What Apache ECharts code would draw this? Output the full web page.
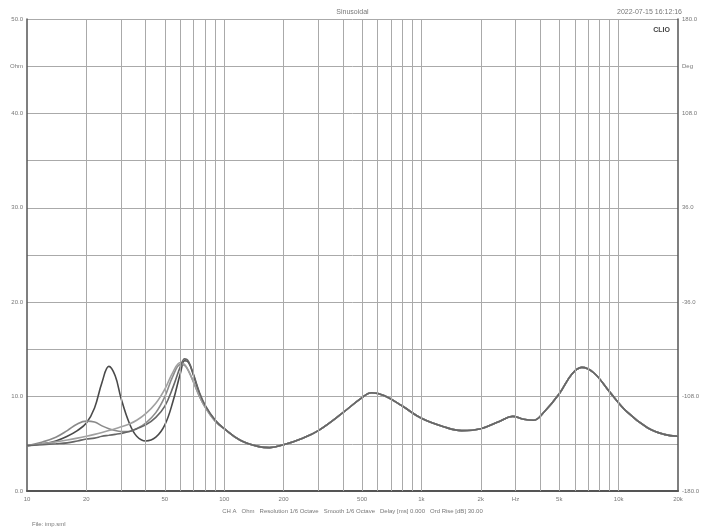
<!DOCTYPE html>
<html><head><meta charset="utf-8">
<script src="https://cdn.jsdelivr.net/npm/echarts@6/dist/echarts.min.js"></script>
<style>html,body{margin:0;background:#fff}#c{width:705px;height:528px}</style></head>
<body><div id="c"></div>
<script>
const lowFreq=[10,12,14,16,18,20,22,24,26,28,30,33,36,40,45,50,55,60,63,66,70,75,80,90];
const tailFreq=[100,120,150,170,200,250,300,400,500,560,650,800,1000,1300,1600,2000,2500,2900,3300,3700,4200,5000,5800,6500,7500,9000,11000,14000,17000,20000];
const tailVals=[6.6,5.4,4.7,4.6,4.9,5.6,6.4,8.3,9.9,10.4,10.1,9.0,7.7,6.8,6.4,6.6,7.4,7.9,7.6,7.5,8.4,10.3,12.4,13.1,12.5,10.5,8.4,6.7,6.0,5.8];
const lowA=[4.8,5.0,5.3,5.8,6.4,7.2,8.8,11.5,13.2,12.2,9.8,7.2,5.8,5.3,5.7,7.0,9.5,12.5,13.8,13.6,12.2,10.3,9.0,7.5];
const lowB=[4.8,5.2,5.7,6.4,7.1,7.4,7.3,6.9,6.6,6.4,6.3,6.3,6.6,7.2,8.3,10.0,12.2,13.4,13.3,12.7,11.5,10.0,8.9,7.4];
const lowC=[4.8,5.0,5.2,5.4,5.6,5.8,6.0,6.2,6.4,6.6,6.8,7.1,7.5,8.2,9.3,10.8,12.6,13.6,13.4,12.7,11.5,10.0,8.9,7.4];
const lowD=[4.8,4.9,5.0,5.1,5.3,5.5,5.6,5.8,5.9,6.0,6.1,6.3,6.6,7.0,7.8,9.0,11.0,13.2,14.0,13.7,12.3,10.4,9.1,7.5];
const gridFreq=[20,30,40,50,60,70,80,90,100,200,300,400,500,600,700,800,900,1000,2000,3000,4000,5000,6000,7000,8000,9000,10000];
const tickFreq=[10,20,50,100,200,500,1000,2000,3000,5000,10000,20000];
const tickText=['10','20','50','100','200','500','1k','2k','Hz','5k','10k','20k'];
const leftLabels={0:'0.0',10:'10.0',20:'20.0',30:'30.0',40:'40.0',45:'Ohm',50:'50.0'};
const rightLabels={'-180':'-180.0','-108':'-108.0','-36':'-36.0','36':'36.0','108':'108.0','144':'Deg','180':'180.0'};
const freqs=lowFreq.concat(tailFreq);
function mk(low){return freqs.map((f,i)=>[f,i<low.length?low[i]:tailVals[i-low.length]]);}
const colors=['#4a4a4a','#8a8a8a','#a0a0a0','#666'];
const lows=[lowA,lowB,lowC,lowD];
const series=lows.map((l,i)=>({type:'line',data:mk(l),smooth:0.4,showSymbol:false,lineStyle:{color:colors[i],width:1.6},z:3}));
series[0].markLine={silent:true,symbol:'none',animation:false,
 data:gridFreq.map(f=>({xAxis:f,lineStyle:{color:'#aaa',width:1,type:'solid'},label:{show:false}}))};
const chart=echarts.init(document.getElementById('c'));
chart.setOption({animation:false,
 title:[{text:'Sinusoidal',left:'center',top:4,textStyle:{fontSize:7,color:'#777',fontWeight:'normal'}},
  {text:'2022-07-15 16:12:16',right:18,top:4,textStyle:{fontSize:7,color:'#777',fontWeight:'normal'}},
  {text:'CLIO',right:30,top:22,textStyle:{fontSize:7,color:'#444',fontWeight:'bold'}},
  {text:'CH A   Ohm   Resolution 1/6 Octave   Smooth 1/6 Octave   Delay [ms] 0.000   Ord Rise [dB] 30.00',left:'center',top:503,textStyle:{fontSize:6,color:'#777',fontWeight:'normal'}},
  {text:'File: imp.sml',left:27,top:516,textStyle:{fontSize:6,color:'#777',fontWeight:'normal'}}],
 grid:{left:27,right:27,top:19,bottom:37},
 xAxis:{type:'log',min:10,max:20000,logBase:10,
  axisLabel:{customValues:tickFreq,formatter:v=>{const i=tickFreq.findIndex(t=>Math.abs(t-v)<1e-6*t);return i>=0?tickText[i]:'';},color:'#777',fontSize:6,margin:5},
  axisTick:{show:false},splitLine:{show:false},
  axisLine:{lineStyle:{color:'#555',width:2}}},
 yAxis:[{type:'value',min:0,max:50,interval:5,position:'left',
   axisLabel:{formatter:v=>leftLabels[v]||'',color:'#777',fontSize:6,margin:4},
   axisLine:{show:true,lineStyle:{color:'#555',width:1.5}},axisTick:{show:false},
   splitLine:{lineStyle:{color:'#aaa',width:1}}},
  {type:'value',min:-180,max:180,interval:36,position:'right',
   axisLabel:{formatter:v=>rightLabels[String(Math.round(v))]||'',color:'#777',fontSize:6,margin:4},
   axisLine:{show:true,lineStyle:{color:'#555',width:1.5}},axisTick:{show:false},splitLine:{show:false}}],
 series:series});
</script></body></html>
